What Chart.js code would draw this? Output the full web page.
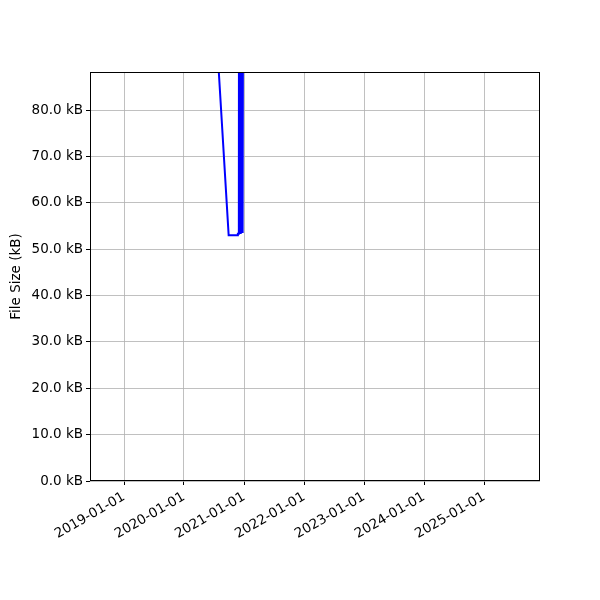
<!DOCTYPE html>
<html>
<head>
<meta charset="utf-8">
<script src="https://cdn.jsdelivr.net/npm/chart.js@4/dist/chart.umd.min.js"></script>
<style>
  html, body { margin: 0; padding: 0; background: #ffffff; }
  canvas { display: block; }
</style>
</head>
<body>
<canvas id="c" width="600" height="600"></canvas>
<script>
// ---- data ----
const dates = [
  "2018-10-11", "2019-05-01", "2020-01-01", "2020-07-15",
  "2020-09-29", "2020-11-23", "2020-11-24", "2020-11-30",
  "2020-12-01", "2020-12-03", "2020-12-05", "2020-12-08",
  "2020-12-10", "2020-12-13", "2020-12-15", "2020-12-18",
  "2020-12-20", "2020-12-23", "2020-12-26",
  "2021-06-01", "2022-06-01", "2023-06-01", "2024-06-01", "2025-08-05"
];
const fileSizeKB = [
  150, 140, 120, 97.6,
  53.0, 53.0, 53.3, 53.3,
  120, 53.5, 120, 53.5,
  120, 53.5, 120, 53.5,
  120, 53.5, 120,
  130, 135, 140, 145, 150
];
const xTickDates = ["2019-01-01", "2020-01-01", "2021-01-01", "2022-01-01", "2023-01-01", "2024-01-01", "2025-01-01"];
const yTickValues = [0, 10, 20, 30, 40, 50, 60, 70, 80];
const xRange = ["2018-06-08", "2025-12-07"];
const yRange = [0, 88.2];

function ts(s) {
  const p = s.split("-").map(Number);
  return Date.UTC(p[0], p[1] - 1, p[2]);
}
function fmtDate(v) {
  const d = new Date(v);
  const mm = String(d.getUTCMonth() + 1).padStart(2, "0");
  const dd = String(d.getUTCDate()).padStart(2, "0");
  return d.getUTCFullYear() + "-" + mm + "-" + dd;
}

const points = dates.map((d, i) => ({ x: ts(d), y: fileSizeKB[i] }));

const FONT = { family: "'DejaVu Sans', sans-serif", size: 13.5 };

const frame = {
  id: "frame",
  afterDraw(chart) {
    const a = chart.chartArea, ctx = chart.ctx;
    ctx.save();
    ctx.strokeStyle = "#000000";
    ctx.lineWidth = 1;
    ctx.strokeRect(Math.round(a.left) + 0.5, Math.round(a.top) + 0.5,
                   Math.round(a.right - a.left) - 1, Math.round(a.bottom - a.top) - 1);
    ctx.restore();
  }
};
const whiteBg = {
  id: "whiteBg",
  beforeDraw(chart) {
    const ctx = chart.ctx;
    ctx.save();
    ctx.fillStyle = "#ffffff";
    ctx.fillRect(0, 0, chart.width, chart.height);
    ctx.restore();
  }
};

new Chart(document.getElementById("c"), {
  type: "line",
  data: {
    datasets: [{
      data: points,
      borderColor: "#0000ff",
      borderWidth: 2,
      pointRadius: 0,
      tension: 0,
      fill: false,
      clip: 0
    }]
  },
  options: {
    responsive: false,
    animation: false,
    events: [],
    layout: { padding: { top: 72, right: 60, left: 0, bottom: 0 } },
    plugins: { legend: { display: false }, tooltip: { enabled: false } },
    scales: {
      x: {
        type: "linear",
        min: ts(xRange[0]),
        max: ts(xRange[1]),
        afterBuildTicks(scale) { scale.ticks = xTickDates.map(d => ({ value: ts(d) })); },
        afterFit(scale) { scale.height = 119; scale.paddingLeft = 0; scale.paddingRight = 0; },
        ticks: {
          callback: v => fmtDate(v),
          color: "#000000",
          font: FONT,
          minRotation: 30,
          maxRotation: 30,
          padding: 4,
          autoSkip: false
        },
        grid: { color: "#b0b0b0", lineWidth: 0.8, tickColor: "#000000", tickLength: 4, tickWidth: 1 },
        border: { display: false }
      },
      y: {
        type: "linear",
        min: yRange[0],
        max: yRange[1],
        afterBuildTicks(scale) { scale.ticks = yTickValues.map(v => ({ value: v })); },
        afterFit(scale) { scale.width = 90; },
        ticks: {
          callback: v => v.toFixed(1) + " kB",
          color: "#000000",
          font: FONT,
          padding: 3
        },
        grid: { color: "#b0b0b0", lineWidth: 0.8, tickColor: "#000000", tickLength: 4, tickWidth: 1 },
        border: { display: false },
        title: {
          display: true,
          text: "File Size (kB)",
          color: "#000000",
          font: FONT,
          padding: { top: 8, bottom: 0 }
        }
      }
    }
  },
  plugins: [whiteBg, frame]
});
</script>
</body>
</html>
